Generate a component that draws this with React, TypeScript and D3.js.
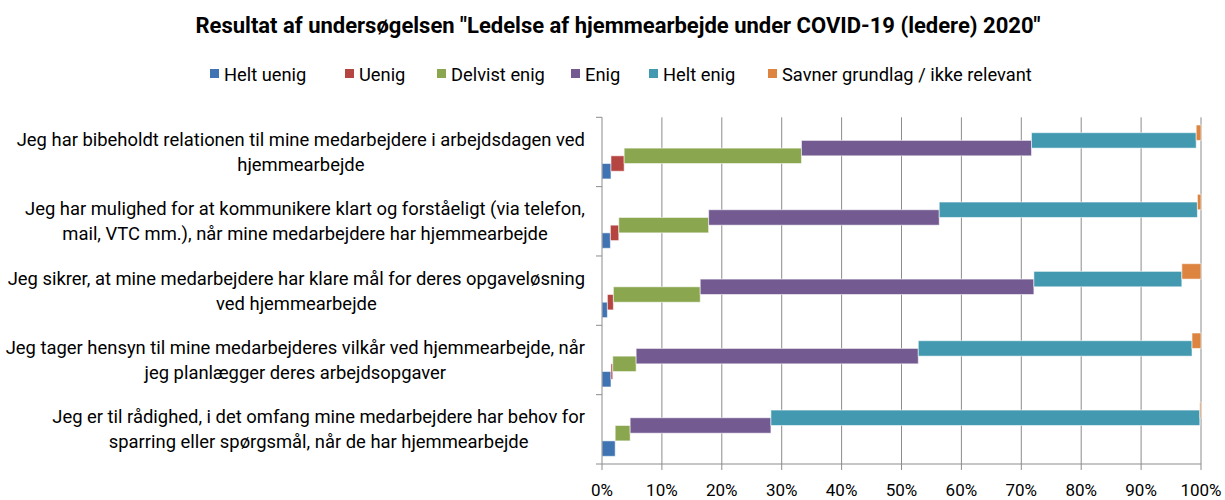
import React, { useEffect, useRef } from "react";
import * as d3 from "d3";

const title = 'Resultat af undersøgelsen "Ledelse af hjemmearbejde under COVID-19 (ledere) 2020"';

const categories: string[][] = [
  ["Jeg har bibeholdt relationen til mine medarbejdere i arbejdsdagen ved", "hjemmearbejde"],
  ["Jeg har mulighed for at kommunikere klart og forståeligt (via telefon,", "mail, VTC mm.), når mine medarbejdere har hjemmearbejde"],
  ["Jeg sikrer, at mine medarbejdere har klare mål for deres opgaveløsning", "ved hjemmearbejde"],
  ["Jeg tager hensyn til mine medarbejderes vilkår ved hjemmearbejde, når", "jeg planlægger deres arbejdsopgaver"],
  ["Jeg er til rådighed, i det omfang mine medarbejdere har behov for", "sparring eller spørgsmål, når de har hjemmearbejde"],
];

const seriesNames = ["Helt uenig", "Uenig", "Delvist enig", "Enig", "Helt enig", "Savner grundlag / ikke relevant"];
const seriesColors = ["#3F73B2", "#B54541", "#8AA64E", "#735A91", "#4299B0", "#DD8540"];

const heltUenig = [1.5, 1.4, 0.9, 1.5, 2.2];
const uenig = [2.2, 1.4, 1.0, 0.3, 0.0];
const delvistEnig = [29.6, 15.0, 14.5, 3.9, 2.5];
const enig = [38.4, 38.5, 55.7, 47.1, 23.5];
const heltEnig = [27.5, 43.1, 24.7, 45.7, 71.6];
const savner = [0.8, 0.6, 3.2, 1.5, 0.2];

const seriesValues = [heltUenig, uenig, delvistEnig, enig, heltEnig, savner];
const xTicks = [0, 10, 20, 30, 40, 50, 60, 70, 80, 90, 100];

const FONT = "Roboto, 'Liberation Sans', sans-serif";

export default function App() {
  const ref = useRef<SVGSVGElement>(null);

  useEffect(() => {
    const svg = d3.select(ref.current);
    svg.selectAll("*").remove();

    const x = d3.scaleLinear().domain([0, 100]).range([602, 1201]);
    const y = d3.scaleBand<number>().domain(d3.range(categories.length)).range([117.3, 464]).padding(0);
    const bw = y.bandwidth();
    const s = bw / 9;
    const gridColor = "#8c8c8c";

    // title
    svg.append("text")
      .attr("x", 618).attr("y", 33)
      .attr("text-anchor", "middle")
      .attr("font-family", FONT).attr("font-size", 22).attr("font-weight", "bold")
      .attr("fill", "#000")
      .text(title);

    // legend
    const legendX = [210, 345, 437, 571, 649, 768];
    seriesNames.forEach((name, i) => {
      svg.append("rect").attr("x", legendX[i]).attr("y", 69).attr("width", 9).attr("height", 9).attr("fill", seriesColors[i]);
      svg.append("text").attr("x", legendX[i] + 14).attr("y", 74)
        .attr("dominant-baseline", "central")
        .attr("font-family", FONT).attr("font-size", 18.3).attr("fill", "#000")
        .text(name);
    });

    // gridlines
    xTicks.slice(1).forEach((t) => {
      svg.append("line").attr("x1", x(t)).attr("x2", x(t)).attr("y1", 117.3).attr("y2", 464)
        .attr("stroke", gridColor).attr("stroke-width", 1);
    });

    // bars
    categories.forEach((_, ci) => {
      let cum = 0;
      seriesValues.forEach((vals, si) => {
        const v = vals[ci];
        const top = (y(ci) as number) + bw - s * (3 + si);
        if (v > 0) {
          svg.append("rect")
            .attr("x", x(cum)).attr("y", top)
            .attr("width", x(cum + v) - x(cum)).attr("height", 2 * s)
            .attr("fill", seriesColors[si])
            .attr("stroke", "rgba(255,255,255,0.55)").attr("stroke-width", 1);
        }
        cum += v;
      });
    });

    // axes
    svg.append("line").attr("x1", 602).attr("x2", 602).attr("y1", 117.3).attr("y2", 464).attr("stroke", gridColor);
    svg.append("line").attr("x1", 602).attr("x2", 1201).attr("y1", 464).attr("y2", 464).attr("stroke", gridColor);
    d3.range(categories.length + 1).forEach((i) => {
      const yy = 117.3 + i * bw;
      svg.append("line").attr("x1", 596).attr("x2", 602).attr("y1", yy).attr("y2", yy).attr("stroke", gridColor);
    });
    xTicks.forEach((t) => {
      svg.append("line").attr("x1", x(t)).attr("x2", x(t)).attr("y1", 464).attr("y2", 470).attr("stroke", gridColor);
      svg.append("text").attr("x", x(t)).attr("y", 496)
        .attr("text-anchor", "middle")
        .attr("font-family", FONT).attr("font-size", 17).attr("fill", "#000")
        .text(`${t}%`);
    });

    // category labels: block right-aligned at 585, lines centered in block
    categories.forEach((lines, ci) => {
      const cy = (y(ci) as number) + bw / 2;
      const lh = 25;
      const g = svg.append("g");
      const texts = lines.map((ln, li) =>
        g.append("text")
          .attr("y", cy + (li - (lines.length - 1) / 2) * lh)
          .attr("dominant-baseline", "central")
          .attr("text-anchor", "middle")
          .attr("font-family", FONT).attr("font-size", 18.4).attr("fill", "#000")
          .text(ln)
      );
      const widths = texts.map((t) => (t.node() as SVGTextElement).getComputedTextLength());
      const maxW = Math.max(...widths);
      texts.forEach((t) => t.attr("x", 585 - maxW / 2));
    });
  }, []);

  return (
    <svg ref={ref} width={1225} height={500} style={{ position: "absolute", left: 0, top: 0, background: "#fff" }} />
  );
}
